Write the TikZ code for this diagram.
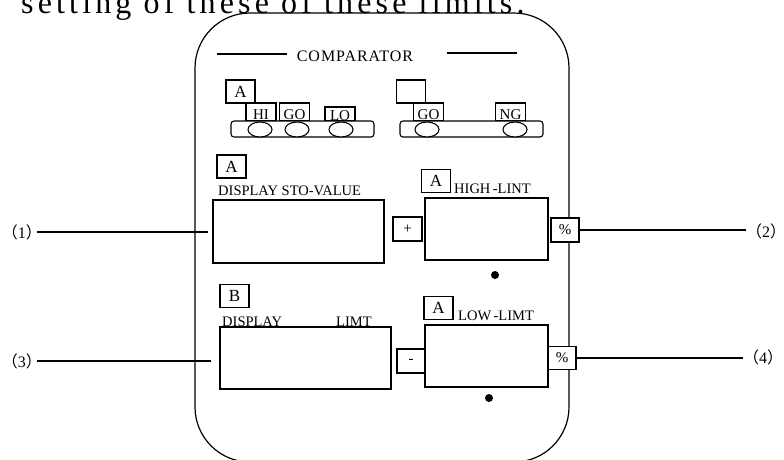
\documentclass[tikz,border=0pt]{standalone}
\usepackage{fontspec}
\setmainfont{Liberation Serif}
\newfontfamily\compfont[LetterSpace=6]{Liberation Serif}
\newfontfamily\widefont[LetterSpace=13]{Liberation Serif}
\newfontfamily\cjk{Noto Sans CJK SC}
\usetikzlibrary{positioning,calc,shapes.geometric}
\tikzset{
  tagbox/.style={draw, line width=1.1pt, fill=white, minimum width=29pt, minimum height=23pt,
                 inner sep=0pt, font=\fontsize{17}{17}\selectfont},
  lampbox/.style={draw, line width=1.1pt, fill=white, minimum width=30pt, minimum height=18pt,
                  inner sep=0pt, text height=14pt, text depth=0pt, font=\fontsize{15}{15}\selectfont},
  lampbar/.style={draw, line width=1.1pt, fill=white, rounded corners=3pt, minimum height=16pt, inner sep=0pt},
  bulb/.style={ellipse, draw, line width=1.1pt, fill=white, minimum width=24pt, minimum height=15pt, inner sep=0pt},
  screen/.style={draw, line width=1.3pt, inner sep=0pt, minimum height=62pt},
  signbox/.style={draw, line width=1.1pt, fill=white, minimum width=29pt, minimum height=24pt,
                  inner sep=0pt, font=\fontsize{15}{15}\selectfont},
  caption/.style={anchor=base west, inner sep=0pt, font=\fontsize{14.5}{14.5}\selectfont},
  numlabel/.style={inner sep=0pt, font=\fontsize{16}{16}\selectfont},
  dot/.style={circle, fill, inner sep=0pt, minimum size=8pt},
  leader/.style={line width=1.1pt},
}

\begin{document}
\begin{tikzpicture}[x=1pt, y=-1pt]
  \useasboundingbox (0,0) rectangle (784,459);
  % cut-off line of text above the panel
  \node[anchor=base west, inner sep=0pt, font=\fontsize{32}{32}\widefont] (intro) at (21,13)
    {setting of these of these limits.};
  % panel outline
  \draw[line width=1.2pt, rounded corners=55pt] (195,13) rectangle (569,462);
  \node[anchor=base, inner sep=0pt, font=\fontsize{16}{16}\compfont] (cmp) at (355,61) {COMPARATOR};
  \draw[leader] (217,54) -- (287,54);
  \draw[leader] (447,53) -- (517,53);

  % comparator lamps, left
  \node[tagbox] (tagL) at (240.5,91.5) {A};
  \node[lampbox] (hi) at (261,112) {HI};
  \node[lampbox] (goL) at (294.5,112) {GO};
  \node[lampbox, minimum height=14pt, text height=12pt] (lo) at (340,114) {LO};
  \node[lampbar, minimum width=143pt] (barL) at (302.5,129) {};
  \node[bulb] (b1) at (260,129.5) {};
  \node[bulb] (b2) at (297,129.5) {};
  \node[bulb] (b3) at (341,129.5) {};
  % comparator lamps, right
  \node[tagbox] (tagR) at (411,91.5) {};
  \node[lampbox] (goR) at (428.5,112) {GO};
  \node[lampbox] (ng) at (510.5,112) {NG};
  \node[lampbar, minimum width=143pt] (barR) at (471.5,129) {};
  \node[bulb] (b4) at (427,129.5) {};
  \node[bulb] (b5) at (515,129.5) {};

  % upper row
  \node[tagbox] (tagD1) at (231.5,166.5) {A};
  \node[caption] (capD1) at (218,195) {DISPLAY STO-VALUE};
  \node[screen, minimum width=171pt, minimum height=63pt] (disp1) at (298.5,231.5) {};
  \node[signbox] (plus) at (407.5,229) {+};
  \node[tagbox] (tagH) at (436,181) {A};
  \node[caption] (capH) at (454,193) {HIGH\,-LINT};
  \node[screen, minimum width=123pt] (high) at (486.5,229) {};
  \node[signbox, minimum width=28pt] (pct1) at (565,230) {\%};
  \node[dot] (dotH) at (495,275) {};

  % lower row
  \node[tagbox] (tagD2) at (234.5,296) {B};
  \node[caption] (capD2) at (222,326) {DISPLAY};
  \node[caption] (capL) at (336,326) {LIMT};
  \node[screen, minimum width=171pt] (disp2) at (305.5,358) {};
  \node[signbox, minimum width=28pt] (minus) at (411,361) {-};
  \node[tagbox] (tagLo) at (438.5,308) {A};
  \node[caption] (capLo) at (458,320) {LOW\,-LIMT};
  \node[screen, minimum width=123pt] (low) at (486.5,356) {};
  \node[signbox, minimum width=28pt, minimum height=23pt] (pct2) at (562,358) {\%};
  \node[dot] (dotL) at (489,398) {};

  % numbered leaders
  \node[numlabel, anchor=east] (n1) at (42,232) {{\cjk （}1{\cjk ）}};
  \node[numlabel, anchor=east] (n3) at (42,361) {{\cjk （}3{\cjk ）}};
  \node[numlabel, anchor=west] (n2) at (746,231) {{\cjk （}2{\cjk ）}};
  \node[numlabel, anchor=west] (n4) at (743,357) {{\cjk （}4{\cjk ）}};
  \draw[leader, shorten <=-5pt, shorten >=4pt] (n1.east) -- (n1.east -| disp1.west);
  \draw[leader, shorten <=-5pt, shorten >=8pt] (n3.east) -- (n3.east -| disp2.west);
  \draw[leader] (pct1.east) -- (pct1.east -| n2.west);
  \draw[leader] (pct2.east) -- (pct2.east -| n4.west);
\end{tikzpicture}
\end{document}
